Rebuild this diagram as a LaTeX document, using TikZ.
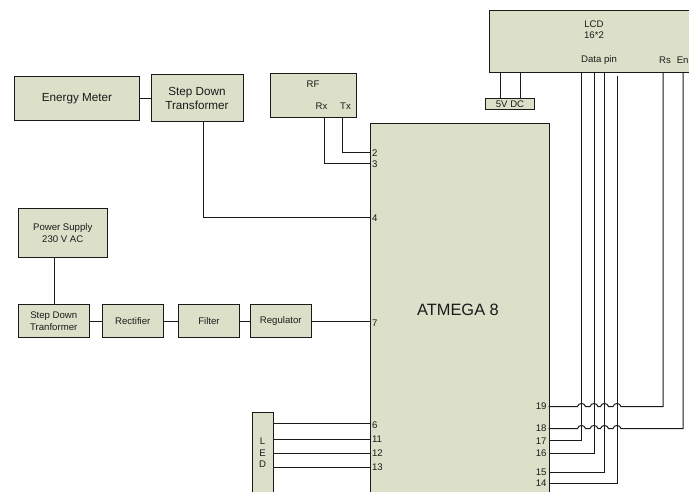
\documentclass[tikz,border=0pt]{standalone}
\usepackage{fontspec}
\setmainfont{Liberation Sans}
\definecolor{boxfill}{HTML}{DDE0C9}
\definecolor{ink}{HTML}{1A1A1A}
\newcommand{\fsm}{\fontsize{9.6}{11.5}\selectfont}
\newcommand{\fmd}{\fontsize{11.7}{14}\selectfont}
\newcommand{\flg}{\fontsize{16.4}{19}\selectfont}
\tikzset{
  bx/.style={draw=ink,fill=boxfill,line width=1pt,inner sep=0pt,outer sep=0pt,align=center,text=ink,font=\fsm},
  txt/.style={inner sep=0pt,outer sep=0pt,align=center,text=ink,font=\fsm},
  pinl/.style={inner sep=2pt,outer sep=0pt,text=ink,font=\fsm,anchor=west},
  pinr/.style={inner sep=2pt,outer sep=0pt,text=ink,font=\fsm,anchor=east},
  wire/.style={draw=ink,line width=1pt},
}
\newcommand{\hop}[2]{-- (#1-4,#2) .. controls (#1-3,#2-4) and (#1+3,#2-4) .. (#1+4,#2)}
\begin{document}
\begin{tikzpicture}[x=1pt,y=-1pt]
\useasboundingbox (0,0) rectangle (689,492);
\clip (0,0) rectangle (689,492);
% boxes
\node[bx,minimum width=250.5pt,minimum height=62.5pt] (lcd) at (614.75,41.75) {};
\node[bx,minimum width=48.5pt,minimum height=10.5pt] (dc) at (510,104) {5V DC};
\node[bx,minimum width=86pt,minimum height=43.5pt] (rf) at (313.5,95.75) {};
\node[bx,minimum width=179pt,minimum height=406.5pt] (atm) at (459.5,326.75) {};
\node[bx,font=\fmd,minimum width=125pt,minimum height=44pt] (em) at (77,98.5) {Energy Meter};
\node[bx,font=\fmd,minimum width=92pt,minimum height=47pt] (sd) at (197,98.5) {Step Down\\Transformer};
\node[bx,minimum width=89.5pt,minimum height=49.5pt] (ps) at (62.75,233) {Power Supply\\230 V AC};
\node[bx,minimum width=71.5pt,minimum height=32.5pt] (st) at (53.75,321) {Step Down\\Tranformer};
\node[bx,minimum width=61.5pt,minimum height=32.5pt] (re) at (132.75,321) {Rectifier};
\node[bx,minimum width=61.5pt,minimum height=32.5pt] (fi) at (209,321) {Filter};
\node[bx,minimum width=61.5pt,minimum height=32.5pt] (rg) at (280.75,321) {Regulator};
\node[bx,minimum width=20.5pt,minimum height=120pt] (led) at (262.75,472.5) {};
% inner labels
\node[txt] (lcdt) at (594,29.5) {LCD\\16*2};
\node[txt] (dp) at (599,60) {Data pin};
\node[txt] (rs) at (665,60) {Rs};
\node[txt,anchor=east] (en) at (688.5,60) {En};
\node[txt] (rft) at (313,84) {RF};
\node[txt] (rx) at (321.5,106.5) {Rx};
\node[txt] (tx) at (345.5,106.5) {Tx};
\node[txt,font=\flg] (atmt) at (458,309.5) {ATMEGA 8};
\node[txt] (ledt) at (262.5,453) {L\\E\\D};
% pin labels
\node[pinl] (p2) at (370,153) {2};
\node[pinl] (p3) at (370,164) {3};
\node[pinl] (p4) at (370,218) {4};
\node[pinl] (p7) at (370,323) {7};
\node[pinl] (p6) at (370,425) {6};
\node[pinl] (p11) at (370,439) {11};
\node[pinl] (p12) at (370,453) {12};
\node[pinl] (p13) at (370,467) {13};
\node[pinr] (p19) at (548.5,406) {19};
\node[pinr] (p18) at (548.5,428) {18};
\node[pinr] (p17) at (548.5,441) {17};
\node[pinr] (p16) at (548.5,453) {16};
\node[pinr] (p15) at (548.5,472) {15};
\node[pinr] (p14) at (548.5,483) {14};
% connector ends
\coordinate (lv1) at (500,73);
\coordinate (lv2) at (520.5,73);
\coordinate (d1) at (581.5,73);
\coordinate (d2) at (594,73);
\coordinate (d3) at (604.5,73);
\coordinate (d4) at (617,76);
\coordinate (rsb) at (663,73);
\coordinate (enb) at (683,73);
\coordinate (rxb) at (324.5,117.5);
\coordinate (txb) at (342,117.5);
\coordinate (sdb) at (203,122);
\coordinate (psb) at (54,258);
\coordinate (l6) at (273,423);
\coordinate (l11) at (273,439.5);
\coordinate (l12) at (273,453);
\coordinate (l13) at (273,467);
% connectors
\draw[wire] (em) -- (sd);
\draw[wire] (sdb) |- (p4.west);
\draw[wire] (txb) |- (p2.west);
\draw[wire] (rxb) |- (p3.west);
\draw[wire] (psb) -- (psb |- st.north);
\draw[wire] (st) -- (re);
\draw[wire] (re) -- (fi);
\draw[wire] (fi) -- (rg);
\draw[wire] (rg.east |- 0,321) -- (p7.west |- 0,321);
\draw[wire] (lv1) -- (lv1 |- dc.north);
\draw[wire] (lv2) -- (lv2 |- dc.north);
\draw[wire] (l6) -- (l6 -| p6.west);
\draw[wire] (l11) -- (l11 -| p11.west);
\draw[wire] (l12) -- (l12 -| p12.west);
\draw[wire] (l13) -- (l13 -| p13.west);
\draw[wire] (d1) -- (581.5,440.5) -- (p17.east |- 0,440.5);
\draw[wire] (d2) |- (p16.east);
\draw[wire] (d3) -- (604.5,472.5) -- (p15.east |- 0,472.5);
\draw[wire] (d4) -- (617,483.5) -- (p14.east |- 0,483.5);
\draw[wire] (p19.east |- 0,406.5) \hop{581.5}{406.5} \hop{594}{406.5} \hop{604.5}{406.5} \hop{617}{406.5} -- (663,406.5) -- (rsb);
\draw[wire] (p18.east |- 0,428.5) \hop{581.5}{428.5} \hop{594}{428.5} \hop{604.5}{428.5} \hop{617}{428.5} -- (683,428.5) -- (enb);
\end{tikzpicture}
\end{document}
